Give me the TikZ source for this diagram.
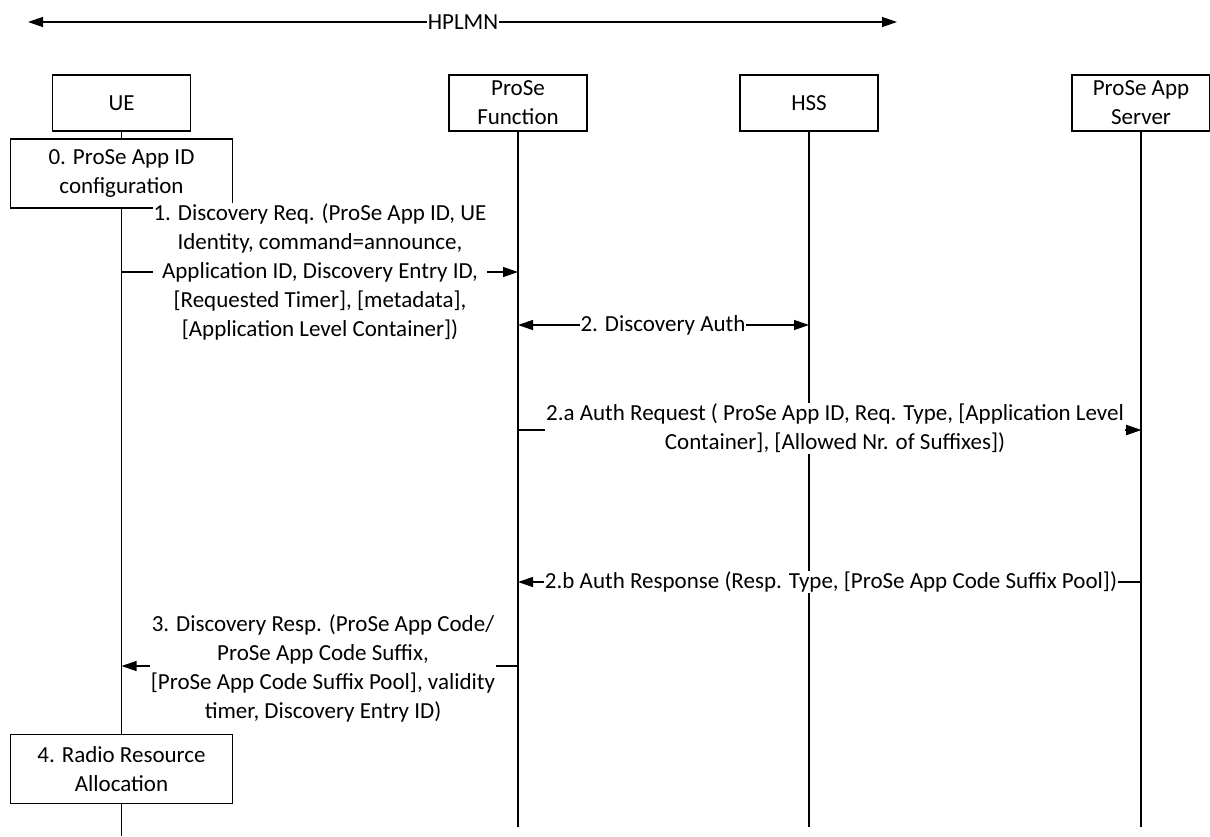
\documentclass[tikz,border=0pt]{standalone}
\usepackage{fontspec}
\setmainfont{Carlito}
\usetikzlibrary{arrows.meta}
\begin{document}
\begin{tikzpicture}[x=1pt,y=-1pt,
  txt/.style={font=\fontsize{23}{29}\selectfont},
  lbl/.style={txt, align=center, inner sep=1pt, fill=white},
  ent/.style={txt, draw, line width=1.3pt, minimum width=138pt, minimum height=56pt, align=center, inner sep=0pt},
  actbox/.style={txt, draw, line width=1.3pt, minimum width=222pt, minimum height=69pt, align=center, inner sep=0pt},
  life/.style={line width=1.3pt},
  msg/.style={line width=1.3pt, -{Triangle[length=15pt,width=10pt]}},
  dmsg/.style={line width=1.3pt, {Triangle[length=15pt,width=10pt]}-{Triangle[length=15pt,width=10pt]}}
]
\useasboundingbox (0,0) rectangle (1210,836);
% entities
\node[ent] (ue) at (121.5,103) {UE};
\node[ent] (pf) at (518,103) {ProSe\\Function};
\node[ent] (hss) at (809,103) {HSS};
\node[ent] (as) at (1141,103) {ProSe App\\Server};
\node[actbox] (cfg) at (121.5,173.5) {0. ProSe App ID\\configuration};
\node[actbox] (rra) at (121.5,769) {4. Radio Resource\\Allocation};
% lifeline ends
\coordinate (ueend) at (121.5,836);
\coordinate (pfend) at (518,827);
\coordinate (hssend) at (809,827);
\coordinate (asend) at (1141,827);
\draw[life] (ue) -- (cfg);
\draw[life] (cfg) -- (rra);
\draw[life] (rra) -- (ueend);
\draw[life] (pf) -- (pfend);
\draw[life] (hss) -- (hssend);
\draw[life] (as) -- (asend);
% HPLMN
\coordinate (hl) at (28,22);
\coordinate (hr) at (897,22);
\draw[dmsg] (hl) -- (hr);
\node[lbl] (hplmn) at (463,22) {HPLMN};
% 1
\coordinate (m1a) at (121.5,272);
\coordinate (m1b) at (518,272);
\draw[msg] (m1a) -- (m1b);
\node[lbl] (t1) at (320,272) {1. Discovery Req. (ProSe App ID, UE\\Identity, command=announce,\\Application ID, Discovery Entry ID,\\{[}Requested Timer], [metadata],\\{[}Application Level Container])};
% 2
\coordinate (m2a) at (518,325);
\coordinate (m2b) at (809,325);
\draw[dmsg] (m2a) -- (m2b);
\node[lbl] (t2) at (663,325) {2. Discovery Auth};
% 2a
\coordinate (m3a) at (518,430);
\coordinate (m3b) at (1141,430);
\draw[msg] (m3a) -- (m3b);
\node[lbl] (t3) at (835,428) {2.a Auth Request ( ProSe App ID, Req. Type, [Application Level\\Container], [Allowed Nr. of Suffixes])};
\draw[msg] ([xshift=-15pt]m3b) -- (m3b);
% 2b
\coordinate (m4a) at (1141,582);
\coordinate (m4b) at (518,582);
\draw[msg] (m4a) -- (m4b);
\node[lbl] (t4) at (831,582) {2.b Auth Response (Resp. Type, [ProSe App Code Suffix Pool])};
% 3
\coordinate (m5a) at (518,666);
\coordinate (m5b) at (121.5,666);
\draw[msg] (m5a) -- (m5b);
\node[lbl] (t5) at (323,668) {3. Discovery Resp. (ProSe App Code/\\ProSe App Code Suffix,\\{[}ProSe App Code Suffix Pool], validity\\timer, Discovery Entry ID)};
\end{tikzpicture}
\end{document}
